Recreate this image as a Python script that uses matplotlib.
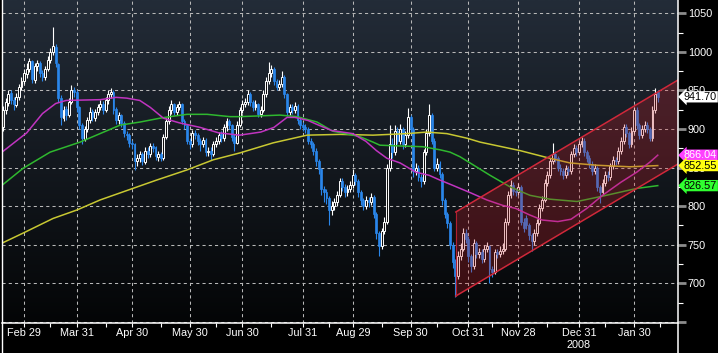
import numpy as np
import matplotlib
matplotlib.use("Agg")
import matplotlib.pyplot as plt
from matplotlib.lines import Line2D
from matplotlib.patches import Polygon
from matplotlib.colors import to_rgb
import matplotlib.transforms as mtransforms

plt.rcParams['font.family'] = ['Liberation Sans', 'DejaVu Sans']

# ---------------- data (one bar per trading day, index 0 = first bar) ----------------
open_ = [903, 925, 934, 946, 938, 931, 942, 954, 962, 971,
         978, 988, 964, 981, 985, 972, 967, 978, 990, 1000,
         1006, 984, 940, 914, 926, 918, 935, 951, 948, 928,
         905, 887, 900, 911, 923, 914, 922, 928, 933, 925,
         937, 945, 948, 926, 911, 918, 908, 894, 892, 882,
         880, 858, 862, 868, 857, 872, 867, 878, 876, 864,
         868, 862, 890, 910, 924, 932, 922, 928, 932, 910,
         905, 885, 880, 895, 892, 885, 880, 886, 870, 872,
         868, 880, 885, 893, 888, 902, 910, 905, 890, 882,
         905, 925, 932, 935, 945, 935, 928, 932, 920, 925,
         945, 962, 972, 978, 962, 955, 958, 968, 945, 922,
         928, 925, 930, 912, 905, 902, 900, 885, 880, 872,
         858, 848, 822, 818, 810, 795, 800, 805, 815, 832,
         825, 818, 822, 828, 840, 832, 818, 808, 800, 808,
         805, 812, 790, 765, 748, 768, 780, 850, 880, 870,
         898, 885, 900, 880, 892, 915, 900, 845, 850, 838,
         832, 870, 895, 918, 885, 850, 855, 842, 808, 790,
         778, 750, 728, 710, 735, 745, 765, 758, 735, 722,
         752, 738, 740, 732, 745, 748, 718, 715, 740, 738,
         742, 745, 780, 815, 828, 820, 818, 825, 780, 785,
         775, 762, 755, 765, 778, 798, 808, 830, 840, 858,
         868, 862, 850, 845, 840, 848, 845, 868, 875, 870,
         880, 885, 870, 862, 855, 845, 850, 825, 818, 830,
         840, 838, 852, 860, 858, 872, 885, 902, 895, 880,
         898, 925, 905, 892, 900, 905, 900, 888, 925, 948]
high = [930, 940, 950, 950, 942, 946, 958, 968, 978, 985,
        992, 990, 986, 990, 988, 976, 982, 995, 1005, 1032,
        1010, 986, 944, 930, 930, 940, 957, 955, 950, 930,
        908, 904, 916, 928, 926, 926, 933, 938, 936, 942,
        950, 953, 950, 928, 922, 920, 910, 898, 895, 886,
        882, 867, 872, 870, 876, 876, 882, 882, 878, 872,
        870, 894, 914, 930, 937, 934, 932, 936, 934, 913,
        907, 888, 899, 899, 895, 888, 890, 888, 877, 876,
        884, 889, 896, 897, 906, 914, 913, 907, 893, 910,
        929, 937, 940, 950, 948, 938, 937, 934, 930, 950,
        967, 987, 983, 980, 965, 963, 975, 970, 947, 933,
        932, 935, 932, 915, 909, 906, 903, 888, 883, 875,
        861, 850, 826, 822, 813, 806, 810, 820, 836, 836,
        829, 827, 832, 848, 843, 835, 821, 811, 813, 812,
        817, 815, 792, 768, 772, 786, 855, 905, 888, 905,
        903, 906, 903, 897, 927, 918, 902, 856, 853, 842,
        874, 900, 932, 921, 888, 862, 858, 844, 811, 793,
        781, 753, 732, 742, 752, 772, 770, 761, 738, 758,
        755, 746, 744, 750, 754, 750, 722, 745, 744, 748,
        752, 785, 820, 834, 831, 824, 830, 827, 784, 788,
        778, 765, 770, 783, 803, 813, 835, 846, 863, 882,
        872, 865, 854, 849, 853, 852, 872, 880, 879, 885,
        890, 888, 873, 866, 858, 855, 852, 828, 835, 845,
        846, 856, 865, 864, 877, 890, 907, 906, 898, 903,
        929, 928, 908, 905, 910, 909, 903, 930, 953, 950]
low = [898, 920, 930, 933, 925, 928, 938, 950, 958, 966,
       974, 960, 960, 975, 968, 962, 964, 975, 985, 996,
       980, 935, 905, 910, 912, 915, 932, 942, 922, 900,
       880, 884, 896, 908, 910, 910, 918, 924, 920, 922,
       933, 940, 920, 906, 907, 903, 890, 886, 877, 874,
       847, 852, 857, 853, 854, 863, 864, 870, 860, 859,
       858, 860, 887, 906, 920, 918, 918, 924, 906, 900,
       880, 874, 877, 887, 879, 872, 876, 865, 865, 860,
       865, 876, 881, 883, 885, 898, 900, 885, 872, 880,
       902, 921, 928, 931, 930, 923, 924, 915, 916, 922,
       941, 958, 968, 957, 950, 950, 954, 940, 917, 918,
       920, 921, 907, 900, 897, 895, 880, 875, 866, 852,
       842, 815, 805, 803, 775, 788, 795, 800, 812, 820,
       812, 813, 818, 824, 827, 812, 802, 795, 796, 799,
       801, 785, 758, 735, 744, 764, 777, 846, 862, 866,
       880, 881, 874, 876, 888, 895, 838, 840, 832, 825,
       829, 866, 891, 880, 845, 846, 836, 802, 784, 772,
       744, 720, 682, 705, 730, 742, 752, 728, 714, 718,
       733, 733, 726, 728, 741, 700, 708, 712, 733, 734,
       738, 742, 776, 811, 815, 813, 814, 775, 766, 770,
       756, 742, 750, 761, 775, 794, 805, 826, 836, 854,
       857, 845, 840, 835, 836, 840, 842, 864, 865, 866,
       876, 865, 857, 850, 840, 841, 820, 804, 814, 826,
       833, 834, 848, 853, 854, 868, 881, 890, 875, 876,
       894, 900, 887, 888, 896, 895, 885, 885, 921, 935]
close = [925, 935, 945, 938, 932, 942, 955, 962, 972, 978,
         988, 965, 982, 985, 972, 968, 978, 990, 1000, 1008,
         985, 940, 915, 925, 918, 935, 950, 948, 928, 905,
         888, 900, 912, 922, 915, 922, 928, 932, 925, 938,
         945, 948, 925, 912, 918, 908, 895, 892, 882, 880,
         858, 862, 868, 858, 872, 868, 878, 875, 865, 868,
         862, 890, 910, 925, 932, 922, 928, 932, 910, 905,
         885, 880, 895, 892, 885, 880, 886, 870, 872, 868,
         880, 885, 892, 888, 902, 910, 905, 890, 882, 905,
         925, 932, 935, 945, 935, 928, 932, 920, 925, 945,
         962, 972, 978, 962, 955, 958, 968, 945, 922, 928,
         925, 930, 912, 905, 902, 900, 885, 880, 872, 858,
         848, 822, 818, 810, 795, 800, 805, 815, 832, 825,
         818, 822, 828, 840, 832, 818, 808, 800, 808, 805,
         812, 790, 765, 748, 768, 780, 850, 880, 870, 898,
         885, 900, 880, 892, 915, 900, 845, 850, 838, 832,
         870, 895, 918, 885, 850, 855, 842, 808, 790, 778,
         750, 728, 710, 735, 745, 765, 758, 735, 722, 752,
         738, 740, 732, 745, 748, 718, 715, 740, 738, 742,
         745, 780, 815, 828, 820, 818, 825, 780, 772, 775,
         762, 755, 765, 778, 798, 808, 830, 840, 858, 868,
         862, 850, 845, 840, 848, 845, 868, 875, 870, 880,
         885, 870, 862, 855, 845, 850, 825, 818, 830, 840,
         838, 852, 860, 858, 872, 885, 902, 895, 880, 898,
         925, 905, 892, 900, 905, 900, 888, 925, 945, 941.70]

# moving averages, read at trading-day index positions
ma_mag_day = [-0.4, 9, 15, 20, 24, 37, 43, 47, 52, 56, 61, 67, 75, 82, 90, 98, 103, 108, 111, 116,
              120, 125, 133, 138, 142, 146, 151, 157, 162, 166, 171, 178, 184, 190, 195, 200, 205,
              211, 216, 222, 228, 235, 241, 246, 249]
ma_mag_val = [870, 895, 920, 933, 937, 938, 941, 940, 937, 928, 914, 908, 902, 895, 892, 896, 902, 915,
              915, 911, 905, 898, 894, 884, 872, 862, 856, 844, 840, 834, 827, 817, 808, 801, 797, 789,
              782, 780, 783, 797, 814, 831, 844, 857, 866.04]
ma_grn_day = [-0.4, 7.6, 17.9, 29.3, 36.9, 44.5, 52.1, 59.7, 63.5, 70, 77.6, 86.3, 90.1, 105.3, 111.8,
              119.4, 125.5, 133.1, 135.7, 140.7, 143.3, 150.9, 159.7, 166.2, 170, 173.8, 177.6, 185.2,
              192.8, 200.4, 208, 218.3, 228.1, 241.1, 249]
ma_grn_val = [827, 849, 870, 883, 894, 905, 909, 914, 916, 919, 919, 916, 916, 918, 916, 909, 897, 892,
              890, 883, 879, 878, 877, 873, 870, 864, 856, 840, 825, 814, 809, 806, 813, 823, 826.57]
ma_yel_day = [-0.4, 7.6, 19.0, 28.1, 36.9, 49.4, 58.6, 70.0, 79.9, 90.1, 102.7, 115.6, 128.1, 140.7,
              153.6, 161.2, 168.8, 176.5, 181.4, 196.6, 208.0, 215.6, 225.9, 238.4, 249]
ma_yel_val = [752, 765, 784, 795, 808, 823, 834, 847, 860, 869, 882, 892, 893, 892, 894, 896, 894, 888,
              883, 872, 862, 856, 853, 851, 852.55]

# trend channel (trading-day index, value)
chan_day = [172.2, 256.7]
chan_upper = [792.4, 963.5]
chan_lower = [683.5, 854.6]

# axes labels
xtick_day = [8, 28, 49, 71, 91, 114, 133, 155, 177, 196, 219, 240]
xtick_lab = ['Feb 29', 'Mar 31', 'Apr 30', 'May 30', 'Jun 30', 'Jul 31', 'Aug 29',
             'Sep 30', 'Oct 31', 'Nov 28', 'Dec 31', 'Jan 30']
xminor_day = [18, 39, 60, 81, 102, 124, 144, 165, 186, 207, 229, 250]
year_day = 219
year_lab = '2008'
ytick_val = [650, 700, 750, 800, 850, 900, 950, 1000, 1050]
ytick_lab = ['', '700', '750', '800', '850', '900', '950', '1000', '1050']
yminor_val = [675, 725, 775, 825, 875, 925, 975, 1025]

last_labels = [(close[-1], '941.70', '#ffffff', '#000000'),
               (ma_mag_val[-1], '866.04', '#ff40ff', '#ffffff'),
               (ma_yel_val[-1], '852.55', '#ffff10', '#000000'),
               (ma_grn_val[-1], '826.57', '#30ff30', '#000000')]

# ---------------- figure ----------------
W, H = 718, 353
fig = plt.figure(figsize=(W / 100, H / 100), dpi=100, facecolor='black')
ax = fig.add_axes([2 / W, 30 / H, 676 / W, 323 / H])
x0, x1 = -0.4, 256.7
y0, y1 = 648.5, 1067.2
ax.set_xlim(x0, x1)
ax.set_ylim(y0, y1)

# gradient background
top = np.array(to_rgb('#232c38'))
bot = np.array(to_rgb('#040506'))
t = np.linspace(0, 1, 256)[:, None]
grad = (top[None, :] * (1 - t) + bot[None, :] * t)[:, None, :]
ax.imshow(grad, extent=[x0, x1, y0, y1], aspect='auto', zorder=-2, interpolation='bilinear')

for s in ax.spines.values():
    s.set_visible(False)

# ticks and grid
ax.set_xticks(xtick_day)
ax.set_xticklabels(xtick_lab)
ax.set_xticks(xminor_day, minor=True)
ax.yaxis.tick_right()
ax.set_yticks(ytick_val)
ax.set_yticklabels(ytick_lab)
ax.set_yticks(yminor_val, minor=True)
ax.grid(True, which='major', color='#b8b8b8', linestyle=(0, (3, 3)), linewidth=0.75, zorder=-1)
ax.set_axisbelow(True)

ax.tick_params(axis='x', which='major', colors='white', length=3, width=0.8, pad=0.5,
               labelsize=7.8)
ax.tick_params(axis='x', which='minor', colors='white', length=3, width=0.8)
ax.tick_params(axis='y', which='major', color='#8c8c8c', labelcolor='white', length=5.5, width=2,
               pad=1.5, labelsize=7.8, right=True, left=False)
ax.tick_params(axis='y', which='minor', color='white', length=3.5, width=0.8, right=True, left=False)

# candlesticks
o = np.array(open_, float)
c = np.array(close, float)
hi = np.array(high, float)
lo = np.array(low, float)
idx = np.arange(len(c))
up = c >= o
dn = ~up
blue = '#2a86ea'
ax.vlines(idx[up], lo[up], hi[up], color='white', linewidth=0.8, zorder=2)
ax.vlines(idx[dn], lo[dn], hi[dn], color=blue, linewidth=0.8, zorder=2)
ax.bar(idx[up], (c - o)[up], bottom=o[up], width=0.72, facecolor='#111111',
       edgecolor='white', linewidth=0.7, zorder=2.1)
ax.bar(idx[dn], (c - o)[dn], bottom=o[dn], width=0.72, facecolor=blue,
       edgecolor=blue, linewidth=0.5, zorder=2.1)

# moving averages
ax.plot(ma_yel_day, ma_yel_val, color='#c8c832', linewidth=1.1, zorder=3)
ax.plot(ma_grn_day, ma_grn_val, color='#2fb82f', linewidth=1.1, zorder=3)
ax.plot(ma_mag_day, ma_mag_val, color='#c034c0', linewidth=1.1, zorder=3)

# channel
poly = Polygon([(chan_day[0], chan_upper[0]), (chan_day[1], chan_upper[1]),
                (chan_day[1], chan_lower[1]), (chan_day[0], chan_lower[0])],
               closed=True, facecolor='#c81e28', alpha=0.28, edgecolor='none', zorder=4)
ax.add_patch(poly)
ax.plot(chan_day, chan_upper, color='#d0283a', linewidth=1.1, zorder=5)
ax.plot(chan_day, chan_lower, color='#d0283a', linewidth=1.1, zorder=5)
ax.plot([chan_day[0], chan_day[0]], [chan_lower[0], chan_upper[0]], color='#b02030',
        linewidth=0.8, zorder=5)

# year label
trans_xd = mtransforms.blended_transform_factory(ax.transData, ax.transAxes)
ax.text(year_day, -22 / 323, year_lab, transform=trans_xd, ha='center', va='center',
        color='white', fontsize=7.8)

# right side value labels
trans_ya = mtransforms.blended_transform_factory(ax.transAxes, ax.transData)
for val, lab, fc, tc in last_labels:
    ax.text(1.0 + 6 / 676, val, lab, transform=trans_ya, ha='left', va='center', color=tc,
            fontsize=7.8, clip_on=False, zorder=10,
            bbox=dict(boxstyle='larrow,pad=0.06', facecolor=fc, edgecolor='none'))

# frame lines (full height verticals, bottom axis)
fig.add_artist(Line2D([1.5 / W, 1.5 / W], [0, 1], color='white', linewidth=1.0))
fig.add_artist(Line2D([678 / W, 678 / W], [0, 1], color='white', linewidth=1.1))
fig.add_artist(Line2D([2 / W, 678 / W], [30 / H, 30 / H], color='white', linewidth=1.1))

fig.savefig('out.png', dpi=100, facecolor='black')
